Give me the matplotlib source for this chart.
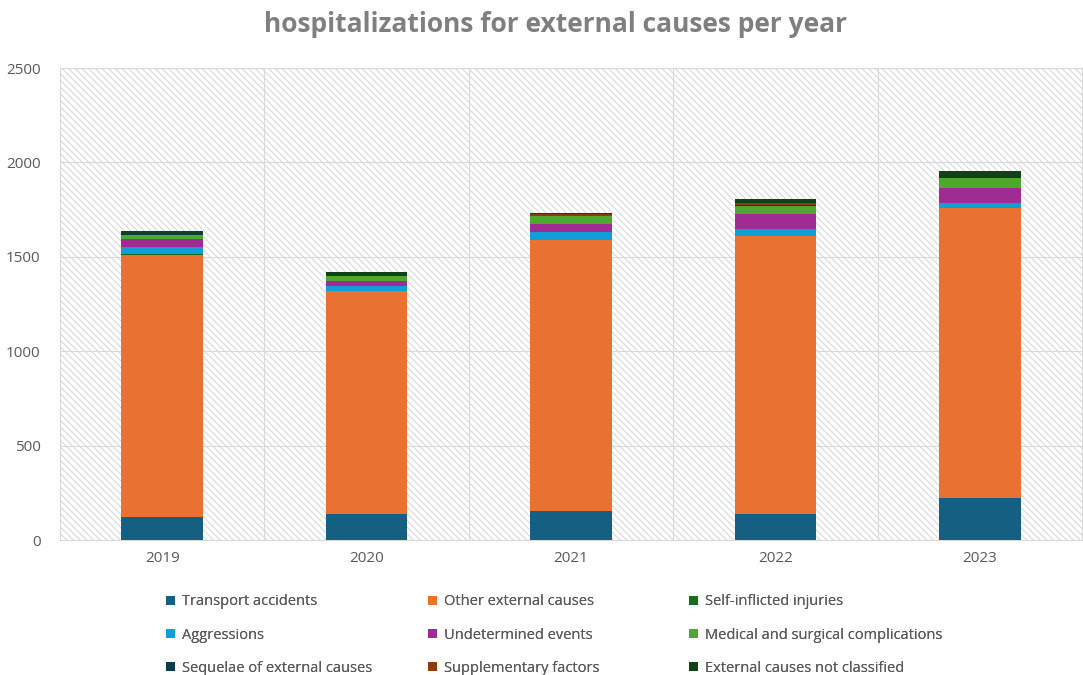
import numpy as np
import matplotlib
matplotlib.use("Agg")
import matplotlib.pyplot as plt
from matplotlib.patches import Rectangle

plt.rcParams['font.family'] = ['Open Sans', 'DejaVu Sans']
plt.rcParams['hatch.linewidth'] = 0.7

years = ['2019', '2020', '2021', '2022', '2023']
causes = ['Transport accidents', 'Other external causes', 'Self-inflicted injuries',
          'Aggressions', 'Undetermined events', 'Medical and surgical complications',
          'Sequelae of external causes', 'Supplementary factors', 'External causes not classified']

transport = [122, 138, 154, 138, 222]
other = [1389, 1179, 1435, 1470, 1534]
self_inflicted = [2, 2, 2, 2, 2]
aggressions = [37, 28, 41, 35, 28]
undetermined = [44, 25, 41, 81, 81]
medical = [21, 28, 41, 44, 48]
sequelae = [9, 4, 2, 4, 6]
supplementary = [1, 1, 9, 9, 3]
not_classified = [12, 16, 9, 23, 32]

series = [transport, other, self_inflicted, aggressions, undetermined,
          medical, sequelae, supplementary, not_classified]
colors = ['#156082', '#E97132', '#196B24', '#0F9ED5', '#A02B93',
          '#4EA72E', '#0B3A4E', '#8E3B0E', '#0F4219']

fig = plt.figure(figsize=(10.83, 6.75), dpi=100)
ax = fig.add_axes([60 / 1083, 1 - 540 / 675, 1022 / 1083, 472 / 675])

# hatched plot background
ax.add_patch(Rectangle((0, 0), 1, 1, transform=ax.transAxes, facecolor='white',
                       edgecolor='#d4d4d4', hatch='\\\\\\\\\\', linewidth=0, zorder=0))

x = np.arange(len(years))
bottom = np.zeros(len(years))
for vals, c, name in zip(series, colors, causes):
    ax.bar(x, vals, 0.4, bottom=bottom, color=c, label=name, zorder=3)
    bottom += np.array(vals)

ax.set_xlim(-0.5, len(years) - 0.5)
ax.set_ylim(0, 2500)
ax.set_yticks(np.arange(0, 2501, 500))
ax.set_xticks(x)
ax.set_xticklabels(years)
for b in np.arange(0.5, len(years) - 0.5):
    ax.axvline(b, color='#d9d9d9', lw=0.8, zorder=1)
ax.yaxis.grid(True, color='#d9d9d9', lw=0.8, zorder=1)
ax.set_axisbelow(True)
for s in ax.spines.values():
    s.set_color('#d9d9d9')
    s.set_linewidth(0.8)
ax.tick_params(length=0, labelsize=11, colors='#595959', pad=8)
ax.tick_params(axis='y', pad=14)

fig.text(556 / 1083, 1 - 25 / 675, 'hospitalizations for external causes per year',
         ha='center', va='center', fontsize=19, fontweight='bold', color='#7f7f7f')

# legend: three columns, filled row by row
handles, labels = ax.get_legend_handles_labels()
col_x = [162, 424, 685]
for ci, cx in enumerate(col_x):
    idx = [ci, ci + 3, ci + 6]
    leg = fig.legend([handles[i] for i in idx], [labels[i] for i in idx],
                     loc='upper left', bbox_to_anchor=(cx / 1083, 1 - 590 / 675),
                     frameon=False, fontsize=10.5, labelcolor='#595959',
                     handlelength=0.6, handleheight=0.6, handletextpad=0.5,
                     labelspacing=1.25, borderaxespad=0, borderpad=0.3)
    fig.add_artist(leg)

fig.savefig('out.png', dpi=100)
